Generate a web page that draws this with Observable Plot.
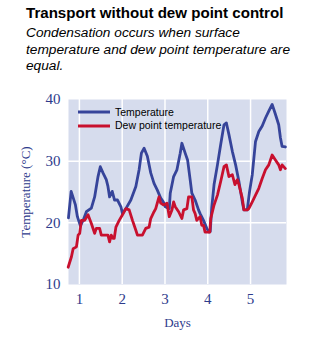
<!DOCTYPE html>
<html>
<head>
<meta charset="utf-8">
<script src="https://cdn.jsdelivr.net/npm/d3@7"></script>
<script src="https://cdn.jsdelivr.net/npm/@observablehq/plot@0.6"></script>
<style>
  html, body { margin: 0; padding: 0; background: #fff; width: 326px; height: 339px; overflow: hidden; }
  #wrap { position: relative; width: 326px; height: 339px; }
  #title { position: absolute; left: 26px; top: 4px; font: bold 15.1px "Liberation Sans", Arial, sans-serif; color: #000; white-space: nowrap; }
  #subtitle { position: absolute; left: 26px; top: 25px; font: italic 13.7px "Liberation Sans", Arial, sans-serif; line-height: 16.5px; color: #000; white-space: nowrap; }
  #chart { position: absolute; left: 0; top: 80px; }
  #legend { position: absolute; left: 78px; top: 105.5px; font: 10.5px "Liberation Sans", Arial, sans-serif; color: #000; line-height: 13.5px; }
  #legend div { display: flex; align-items: center; height: 13.5px; }
  #legend svg { margin-right: 5px; }
</style>
</head>
<body>
<div id="wrap">
  <div id="title">Transport without dew point control</div>
  <div id="subtitle">Condensation occurs when surface<br>temperature and dew point temperature are<br>equal.</div>
  <div id="chart"></div>
  <div id="legend"></div>
</div>
<script>
// Temperature series (day, °C)
const tempDays = [0.744,0.807,0.907,0.953,1.023,1.093,1.163,1.279,1.356,1.435,1.488,1.551,1.628,1.667,1.705,1.767,1.821,1.891,1.970,2.007,2.086,2.202,2.319,2.395,2.449,2.512,2.588,2.667,2.744,2.821,2.900,2.960,3.007,3.100,3.123,3.202,3.279,3.356,3.395,3.472,3.528,3.588,3.628,3.705,3.784,3.821,3.900,3.977,4.030,4.058,4.093,4.147,4.226,4.302,4.379,4.435,4.495,4.574,4.651,4.728,4.807,4.844,4.923,4.977,5.040,5.116,5.193,5.272,5.349,5.426,5.505,5.581,5.658,5.698,5.737,5.814];
const tempValues = [20.8,25.1,22.9,21.0,19.5,20.5,21.8,22.4,24.2,27.5,29.1,28.1,27.0,25.9,24.2,25.1,23.7,23.7,22.6,21.5,22.3,23.7,25.9,28.6,31.3,32.1,30.8,28.1,26.4,25.3,24.0,23.4,22.6,22.3,24.8,27.5,28.6,31.3,32.9,31.3,30.2,27.0,24.8,23.7,22.1,21.5,20.4,19.1,18.5,18.6,22.5,26.2,29.4,32.7,35.9,36.2,34.3,31.6,29.4,26.7,23.4,22.1,22.1,25.1,27.8,33.2,34.8,35.7,37.0,38.1,39.2,37.6,35.9,33.8,32.4,32.3];

// Dew point series (day, °C)
const dewDays = [0.737,0.814,0.853,0.930,0.970,1.007,1.047,1.123,1.202,1.279,1.356,1.395,1.472,1.512,1.667,1.705,1.744,1.784,1.814,1.853,1.930,2.007,2.086,2.163,2.240,2.319,2.356,2.472,2.551,2.628,2.667,2.744,2.784,2.860,2.900,2.970,3.047,3.100,3.163,3.202,3.240,3.319,3.395,3.435,3.512,3.551,3.628,3.667,3.705,3.744,3.821,3.860,3.900,3.937,4.047,4.070,4.147,4.226,4.302,4.379,4.435,4.495,4.574,4.635,4.691,4.728,4.807,4.844,4.923,4.960,5.040,5.116,5.193,5.272,5.349,5.426,5.505,5.581,5.658,5.698,5.737,5.814];
const dewValues = [12.8,14.5,15.8,16.1,18.0,18.3,20.4,20.4,21.3,19.9,18.3,19.1,19.1,18.0,18.0,16.9,18.0,17.5,17.5,19.3,20.4,21.3,22.3,22.1,20.4,18.8,18.0,18.0,19.1,19.3,20.7,21.8,22.3,24.2,23.2,22.9,23.2,21.0,22.1,23.4,22.6,21.8,20.7,22.1,22.3,24.2,24.2,22.1,21.5,20.4,21.0,19.6,19.6,18.5,18.5,20.7,22.9,24.5,26.7,29.1,29.4,27.5,27.8,26.2,27.0,26.2,24.0,22.1,22.1,22.3,23.4,24.5,25.6,27.2,28.6,29.4,31.0,30.2,29.4,28.6,29.4,28.8];

const seriesNames = ["Temperature", "Dew point temperature"];
const seriesColors = ["#36449a", "#c8102e"];
const xTicks = [1, 2, 3, 4, 5];
const yTicks = [10, 20, 30, 40];

const temp = tempDays.map((d, i) => ({day: d, value: tempValues[i]}));
const dew = dewDays.map((d, i) => ({day: d, value: dewValues[i]}));

const axisColor = "#2e3b8c";

const chart = Plot.plot({
  width: 326,
  height: 259,
  marginTop: 19,
  marginBottom: 55,
  marginLeft: 68,
  marginRight: 40,
  style: {background: "transparent", fontFamily: "'Liberation Serif', 'Times New Roman', serif"},
  x: {domain: [0.745, 5.84], ticks: xTicks, label: null},
  y: {domain: [10, 40], ticks: yTicks, label: null},
  marks: [
    Plot.frame({fill: "#d6dced", stroke: null}),
    Plot.gridX(xTicks, {stroke: "#fff", strokeOpacity: 1, strokeWidth: 1.5}),
    Plot.gridY([20, 30], {stroke: "#fff", strokeOpacity: 1, strokeWidth: 1.5}),
    Plot.axisX({ticks: xTicks, tickFormat: d3.format("d"), tickSize: 0, tickPadding: 9, fontSize: 15, fill: axisColor,
      label: "Days", labelAnchor: "center", labelArrow: "none", labelOffset: 42}),
    Plot.axisY({ticks: yTicks, tickFormat: d3.format("d"), tickSize: 0, tickPadding: 8, fontSize: 15, fill: axisColor,
      label: "Temperature (°C)", labelAnchor: "center", labelArrow: "none", labelOffset: 48}),
    Plot.line(temp, {x: "day", y: "value", stroke: seriesColors[0], strokeWidth: 2.8, strokeLinejoin: "round"}),
    Plot.line(dew, {x: "day", y: "value", stroke: seriesColors[1], strokeWidth: 2.8, strokeLinejoin: "round"})
  ]
});
document.getElementById("chart").appendChild(chart);

// style axis labels
chart.querySelectorAll("g[aria-label='x-axis label'] text, g[aria-label='y-axis label'] text").forEach(t => {
  t.setAttribute("font-size", "13");
  t.style.fontSize = "13px";
});

// legend
const legend = document.getElementById("legend");
seriesNames.forEach((name, i) => {
  const row = document.createElement("div");
  row.innerHTML = `<svg width="32" height="6"><line x1="0" x2="32" y1="3" y2="3" stroke="${seriesColors[i]}" stroke-width="3"/></svg><span>${name}</span>`;
  legend.appendChild(row);
});
</script>
</body>
</html>
